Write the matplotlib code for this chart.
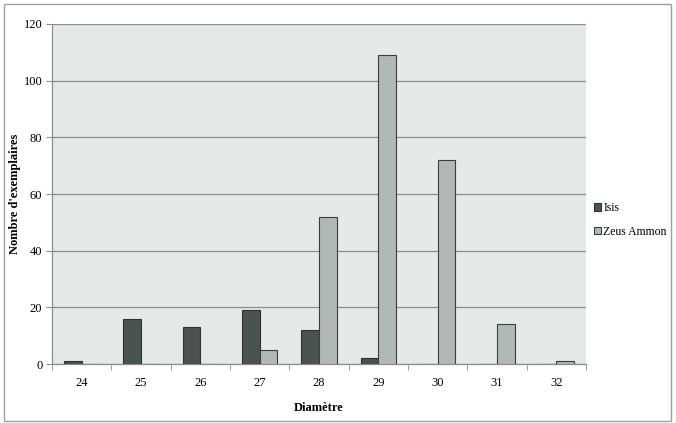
import matplotlib
matplotlib.use("Agg")
import matplotlib.pyplot as plt
import numpy as np
from matplotlib.patches import Rectangle

categories = ["24", "25", "26", "27", "28", "29", "30", "31", "32"]
isis = [1, 16, 13, 19, 12, 2, 0, 0, 0]
zeus = [0, 0, 0, 5, 52, 109, 72, 14, 1]

plt.rcParams['font.family'] = ['Liberation Serif', 'DejaVu Serif']

fig = plt.figure(figsize=(6.76, 4.23), dpi=100)
W, H = 676, 423
ax = fig.add_axes([52 / W, 1 - 364 / H, (586 - 52) / W, (364 - 24) / H])

# outer border
fig.patches.append(Rectangle((4 / W, 2 / H), 667 / W, 417 / H, transform=fig.transFigure,
                             fill=False, edgecolor='#a0a0a0', linewidth=1.0))

x = np.arange(len(categories))
bw = 0.3
c_isis = '#4b5351'
c_zeus = '#b1b9b7'
ax.set_facecolor('#e5eae8')
ax.bar(x - bw / 2, isis, bw, color=c_isis, edgecolor='#2e3332', linewidth=0.8, label='Isis', zorder=3)
ax.bar(x + bw / 2, zeus, bw, color=c_zeus, edgecolor='#3a3f3e', linewidth=0.8, label='Zeus Ammon', zorder=3)

ax.set_xlim(-0.5, len(categories) - 0.5)
ax.set_ylim(0, 120)
ax.set_yticks(range(0, 121, 20))
ax.yaxis.grid(True, color='#8a8f8e', linewidth=0.9, zorder=1)
ax.set_axisbelow(True)

ax.set_xticks(x)
ax.set_xticklabels(categories, fontsize=9)
ax.set_xticks(np.arange(-0.5, len(categories), 1), minor=True)
ax.tick_params(axis='x', which='major', length=0, pad=9)
ax.tick_params(axis='x', which='minor', length=4, color='#8a8f8e', direction='out')
ax.tick_params(axis='y', length=4, color='#8a8f8e', labelsize=9, pad=3)

for s in ['top', 'right']:
    ax.spines[s].set_visible(False)
for s in ['left', 'bottom']:
    ax.spines[s].set_color('#8a8f8e')
    ax.spines[s].set_linewidth(0.9)

ax.set_xlabel('Diamètre', fontsize=9, fontweight='bold', labelpad=10)
ax.set_ylabel("Nombre d'exemplaires", fontsize=9, fontweight='bold', labelpad=2)

fig.legend(*ax.get_legend_handles_labels(), loc='center left',
           bbox_to_anchor=(594 / W, 1 - 220 / H), frameon=False, fontsize=8.5,
           handlelength=0.6, handleheight=0.6, handletextpad=0.2, labelspacing=1.0,
           borderpad=0, borderaxespad=0)

fig.savefig('out.png', dpi=100)
